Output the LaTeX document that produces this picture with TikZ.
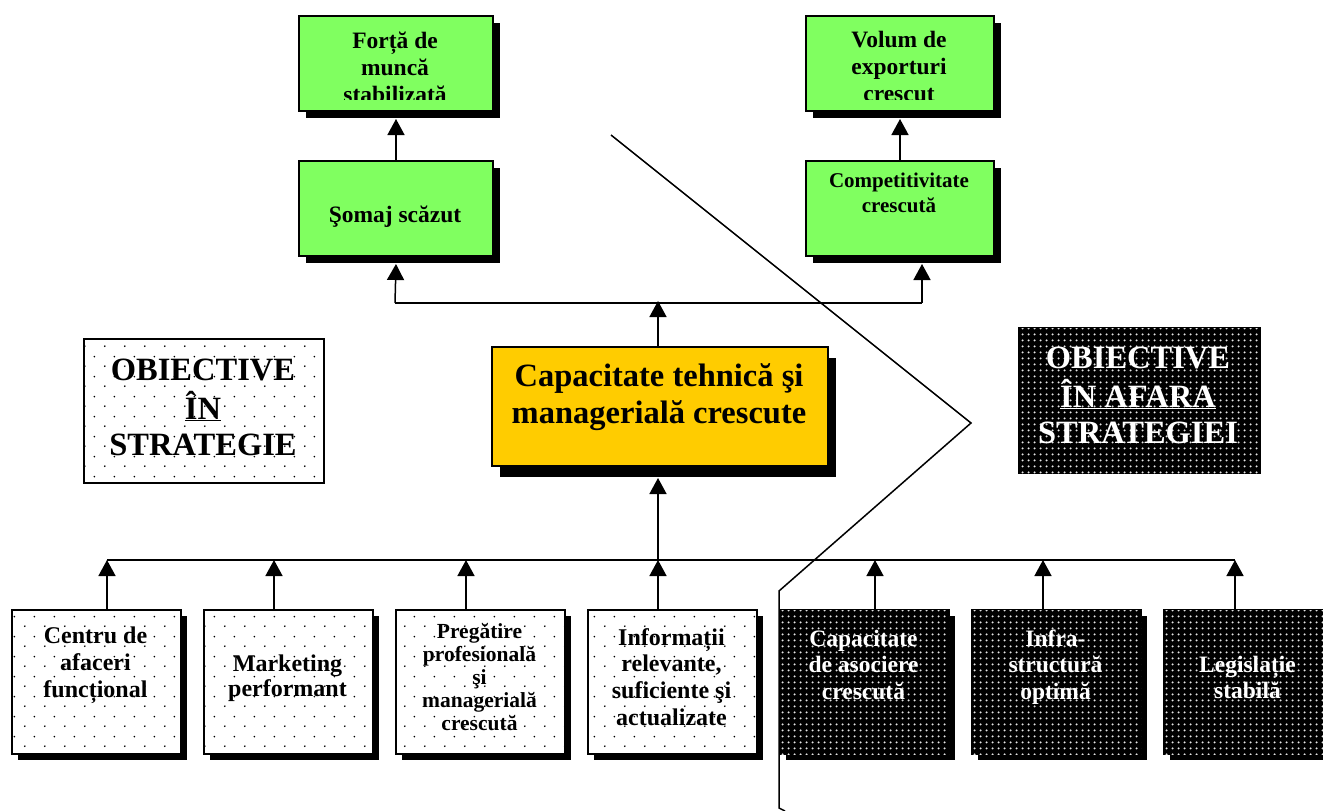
\documentclass[tikz,border=0pt]{standalone}
\usepackage{fontspec}
\setmainfont{Liberation Serif}
\usetikzlibrary{arrows.meta,shadows,patterns.meta}
\definecolor{boxgreen}{RGB}{128,255,96}
\definecolor{boxyellow}{RGB}{255,204,0}
\tikzdeclarepattern{name=sparsedots, type=uncolored, bottom left={(0pt,0pt)}, top right={(20pt,20pt)}, tile size={(20pt,20pt)},
  code={\pgfpathcircle{\pgfpoint{5pt}{5pt}}{1pt}\pgfpathcircle{\pgfpoint{15pt}{15pt}}{1pt}\pgfusepath{fill}}}
\tikzdeclarepattern{name=densedots, type=uncolored, bottom left={(0pt,0pt)}, top right={(6pt,6pt)}, tile size={(6pt,6pt)},
  code={\pgfpathcircle{\pgfpoint{3pt}{3pt}}{1.3pt}\pgfusepath{fill}}}
\newcommand{\ml}[1]{\begin{tabular}[t]{@{}c@{}}#1\end{tabular}}
\tikzset{
  box/.style={draw=black, line width=2pt, inner sep=0pt, anchor=north west},
  shad/.style={drop shadow={shadow xshift=#1, shadow yshift=-#1, fill=black, opacity=1}},
  greenbox/.style={box, fill=boxgreen, minimum height=95pt, shad=7pt},
  capbox/.style={box, fill=boxyellow, minimum width=336pt, minimum height=119pt,
    drop shadow={shadow xshift=8pt, shadow yshift=-11pt, fill=black, opacity=1}},
  dotbox/.style={box, fill=white, postaction={pattern=sparsedots, pattern color=black}},
  darkbox/.style={box, fill=black, postaction={pattern=densedots, pattern color=white!90!black}},
  lowbox/.style={minimum width=169pt, minimum height=144pt, shad=6pt},
  txt/.style={inner sep=0pt, anchor=base},
  conn/.style={line width=1.5pt, draw=black},
  arr/.style={conn, -{Triangle[width=17pt,length=16pt]}},
  divider/.style={line width=1.5pt, draw=black},
}
\begin{document}
\begin{tikzpicture}[x=1pt,y=-1pt]
\useasboundingbox[fill=white] (0,0) rectangle (1323,811);

% top green boxes
\node[greenbox, minimum width=194pt] (forta) at (298,15) {};
\node[greenbox, minimum width=194pt] (somaj) at (298,160) {};
\node[greenbox, minimum width=188pt] (volum) at (805,15) {};
\node[greenbox, minimum width=188pt] (compet) at (805,160) {};
\begin{scope}
  \clip (300,17) rectangle (490,99);
  \node[txt, font=\fontsize{23.5}{27.5}\selectfont\bfseries] (tforta) at (395,48) {\ml{Forță de\\muncă\\stabilizată}};
\end{scope}
\begin{scope}
  \clip (807,17) rectangle (991,99);
  \node[txt, font=\fontsize{23.5}{27.5}\selectfont\bfseries] (tvolum) at (899,47) {\ml{Volum de\\exporturi\\crescut}};
\end{scope}
\node[txt, font=\fontsize{23.5}{25}\selectfont\bfseries] (tsomaj) at (395,222) {Şomaj scăzut};
\node[txt, font=\fontsize{21}{25}\selectfont\bfseries] (tcompet) at (899,187) {\ml{Competitivitate\\crescută}};

% central box
\node[capbox] (cap) at (491,346) {};
\node[txt, font=\fontsize{32.5}{37}\selectfont\bfseries] (tcap) at (659,386) {\ml{Capacitate tehnică şi\\managerială crescute}};

% legend boxes
\node[dotbox, minimum width=240pt, minimum height=144pt] (obin) at (83,338) {};
\node[txt, font=\fontsize{32.5}{36.5}\selectfont\bfseries] (tobin) at (203,380) {\ml{OBIECTIVE\\\underline{ÎN}\\STRATEGIE}};
\node[darkbox, minimum width=241pt, minimum height=145pt] (obout) at (1018,327) {};
\node[txt, text=white, font=\fontsize{32.5}{36}\selectfont\bfseries] (tobout) at (1138,368) {\ml{OBIECTIVE\\\underline{ÎN AFARA}\\STRATEGIEI}};

% bottom boxes
\node[dotbox, lowbox] (b1) at (11,609) {};
\node[dotbox, lowbox] (b2) at (203,609) {};
\node[dotbox, lowbox] (b3) at (395,609) {};
\node[dotbox, lowbox] (b4) at (587,609) {};
\node[darkbox, lowbox] (b5) at (779,609) {};
\node[darkbox, lowbox] (b6) at (971,609) {};
\node[darkbox, lowbox] (b7) at (1163,609) {};

\node[txt, font=\fontsize{24}{27}\selectfont\bfseries] (t1) at (95.5,643) {\ml{Centru de\\afaceri\\funcțional}};
\node[txt, font=\fontsize{24}{25.5}\selectfont\bfseries] (t2) at (287.5,671) {\ml{Marketing\\performant}};
\node[txt, font=\fontsize{21.5}{23}\selectfont\bfseries] (t3) at (479.5,638) {\ml{Pregătire\\profesională\\şi\\managerială\\crescută}};
\node[txt, font=\fontsize{24}{26.7}\selectfont\bfseries] (t4) at (671.5,645) {\ml{Informații\\relevante,\\suficiente şi\\actualizate}};
\node[txt, text=white, font=\fontsize{23.5}{26.5}\selectfont\bfseries] (t5) at (863.5,646) {\ml{Capacitate\\de asociere\\crescută}};
\node[txt, text=white, font=\fontsize{23.5}{26.5}\selectfont\bfseries] (t6) at (1055.5,646) {\ml{Infra-\\structură\\optimă}};
\node[txt, text=white, font=\fontsize{23.5}{26.5}\selectfont\bfseries] (t7) at (1247.5,672) {\ml{Legislație\\stabilă}};

% connectors top
\draw[arr] (somaj.north) -- ([yshift=-7pt]forta.south);
\draw[arr] (compet.north) -- ([yshift=-7pt]volum.south);
\coordinate (tbL) at (395,303);
\coordinate (tbC) at (658,303);
\coordinate (tbR) at (922,303);
\draw[conn] (tbL) -- (tbR);
\draw[arr] (tbL) -- ([yshift=-7pt]somaj.south);
\draw[arr] (tbR) -- ([yshift=-7pt]tbR |- compet.south);
\draw[arr] (tbC |- cap.north) -- ([yshift=2pt]tbC);

% connectors bottom
\coordinate (a1) at (107,560);
\coordinate (a2) at (274,560);
\coordinate (a3) at (466,560);
\coordinate (a4) at (658,560);
\coordinate (a5) at (875,560);
\coordinate (a6) at (1043,560);
\coordinate (a7) at (1235,560);
\draw[conn] (a1) -- (a7);
\draw[arr] (a1 |- b1.north) -- (a1);
\draw[arr] (a2 |- b2.north) -- (a2);
\draw[arr] (a3 |- b3.north) -- (a3);
\draw[arr] (a4 |- b4.north) -- (a4);
\draw[arr] (a5 |- b5.north) -- (a5);
\draw[arr] (a6 |- b6.north) -- (a6);
\draw[arr] (a7 |- b7.north) -- (a7);
\draw[arr] (a4) -- ([yshift=-11pt]a4 |- cap.south);

% divider
\coordinate (d1) at (611,135);
\coordinate (d2) at (971,423);
\coordinate (d3) at (779,591);
\coordinate (d4) at (779,808);
\coordinate (d5) at (785,811);
\draw[divider] (d1) -- (d2) -- (d3) -- (d4) -- (d5);
\end{tikzpicture}
\end{document}
